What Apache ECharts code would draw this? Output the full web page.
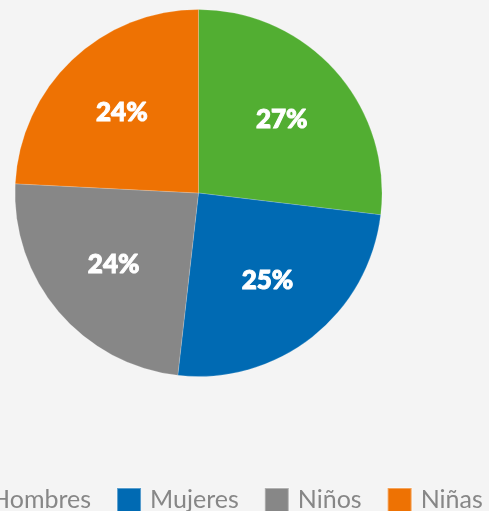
<!DOCTYPE html>
<html>
<head>
<meta charset="utf-8">
<script src="https://cdn.jsdelivr.net/npm/echarts@6/dist/echarts.min.js"></script>
<style>
  html, body { margin: 0; padding: 0; background: #f4f4f4; }
  #chart { width: 489px; height: 511px; }
</style>
</head>
<body>
<div id="chart"></div>
<script>
var categories = ["Hombres", "Mujeres", "Niños", "Niñas"];
var values = [26.9, 24.9, 24.0, 24.2];
var colors = ["#52ae32", "#006ab3", "#878787", "#ee7203"];

var chart = echarts.init(document.getElementById("chart"));

var pieData = categories.map(function (name, i) {
  return { name: name, value: values[i] };
});

var option = {
  backgroundColor: "#f4f4f4",
  color: colors,
  animation: false,
  legend: {
    data: categories,
    left: -48,
    top: 482,
    width: 800,
    orient: "horizontal",
    icon: "rect",
    itemWidth: 24,
    itemHeight: 24,
    itemGap: 25,
    textStyle: {
      color: "#878787",
      fontFamily: "Lato",
      fontSize: 25,
      padding: [0, 0, 0, 4]
    }
  },
  series: [
    {
      type: "pie",
      center: [198.5, 193],
      radius: [0, 183.5],
      startAngle: 90,
      clockwise: true,
      data: pieData,
      itemStyle: {
        borderColor: "rgba(255,255,255,0.35)",
        borderWidth: 0.5
      },
      label: { show: false },
      labelLine: { show: false },
      emphasis: { disabled: true }
    },
    {
      // transparent overlay only used to place the percentage labels
      type: "pie",
      center: [198.5, 193],
      radius: [33, 183.5],
      startAngle: 90,
      clockwise: true,
      silent: true,
      data: pieData,
      itemStyle: { color: "rgba(0,0,0,0)" },
      label: {
        show: true,
        position: "inside",
        color: "#fff",
        fontFamily: "Lato",
        fontWeight: 900,
        fontSize: 26,
        textBorderColor: "#fff",
        textBorderWidth: 1,
        formatter: function (p) {
          return Math.round(p.percent) + "%";
        }
      },
      labelLine: { show: false },
      emphasis: { disabled: true }
    }
  ]
};

chart.setOption(option);
</script>
</body>
</html>
